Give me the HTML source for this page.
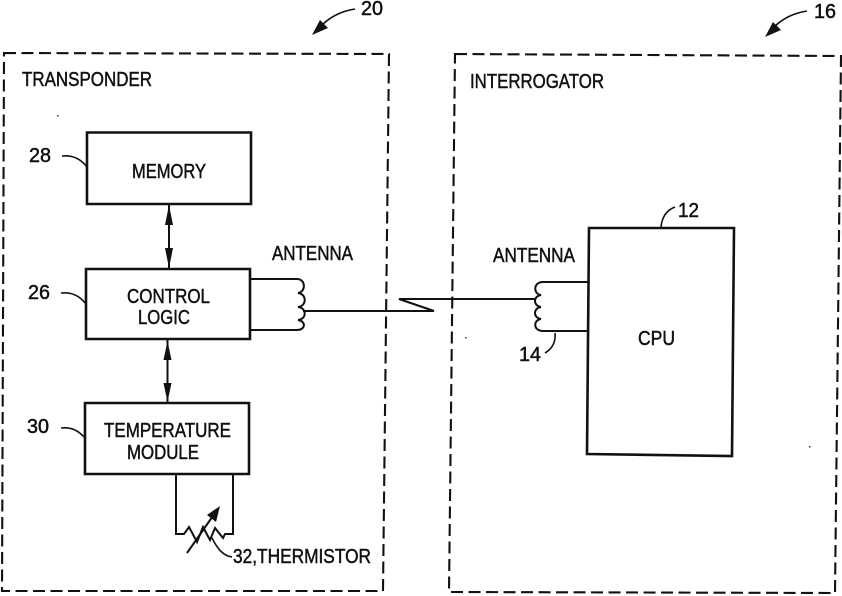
<!DOCTYPE html>
<html><head><meta charset="utf-8"><style>
html,body{margin:0;padding:0;background:#fff}
svg{display:block}
text{font-family:"Liberation Sans",sans-serif;font-size:20.5px;fill:#111;stroke:#111;stroke-width:.5}
.d{fill:none;stroke:#111;stroke-width:2.1;stroke-dasharray:12 5.5}
.b{fill:#fff;stroke:#111;stroke-width:2.6}
.l{fill:none;stroke:#111;stroke-width:2}
.t{fill:none;stroke:#111;stroke-width:1.6}
.h{fill:#111;stroke:none}
</style></head><body>
<svg width="842" height="596" viewBox="0 0 842 596" xmlns="http://www.w3.org/2000/svg">
<path class="d" d="M4 53 L389 54 L383 591 L2 591 Z"/>
<path class="d" d="M455 54 L841 56 L835 593 L449 592 Z"/>

<path class="b" d="M87 132.500 L251 132.500 L251 204 L87 204 Z"/>
<path class="b" d="M86 269 L250 269 L250 339 L86 339 Z"/>
<path class="b" d="M85 403 L249 403 L249 474 L85 474 Z"/>
<path class="b" d="M589 228 L734 228 L732 456 L587 454 Z"/>

<path class="l" d="M169 205 V268"/>
<path class="h" d="M169 205 L173 225 L165 225 Z M169 268 L173 248 L165 248 Z"/>
<path class="l" d="M167.500 340 V403"/>
<path class="h" d="M167.500 341 L171.500 360 L163.500 360 Z M167.500 402 L171.500 383 L163.500 383 Z"/>

<!-- left antenna -->
<path class="l" d="M251 279 H297 C306 279 306 292 298 293 C307 294 307 306 298 307 C307 308 307 319 298 320 C306 321 306 330 297 330 H251"/>
<path class="l" d="M303 311 H434 L399 299 H535"/>
<!-- right antenna -->
<path class="l" d="M588 282 H543 C533 282 533 294 541 295 C533 296 533 306 541 307 C533 308 533 318 541 319 C533 320 533 331 543 331 H588"/>

<!-- thermistor -->
<path class="l" d="M176 475 V534 H184 L189 527 L197 542 L203 527 L210 540 L215 528 L223 538 L225 534 H233 V475"/>
<path class="l" d="M187 553 L215 513"/>
<path class="h" d="M220 506 L216 522 L207 515 Z"/>

<!-- leaders -->
<path class="t" d="M62 156 C72 155 80 158 87 167"/>
<path class="t" d="M61 293 C71 292 79 295 86 304"/>
<path class="t" d="M61 428 C71 427 78 430 85 438"/>
<path class="t" d="M212 538 C218 550 224 556 232 557"/>
<path class="t" d="M555 333 C556 342 552 349 545 353"/>
<path class="t" d="M675 207 C667 210 662 217 661 227"/>
<path class="t" d="M355 9 C343 11 333 15 323 24"/>
<path class="h" d="M312 35 L320 20 L328 28 Z"/>
<path class="t" d="M807 11 C795 13 785 17 775 26"/>
<path class="h" d="M765 37 L773 22 L781 30 Z"/>

<!-- specks -->
<rect x="57" y="115" width="1.500" height="1.500" fill="#333"/>
<rect x="465" y="337" width="1.500" height="1.500" fill="#333"/>
<rect x="809" y="446" width="1.500" height="1.500" fill="#333"/>

<text x="22" y="86" textLength="130" lengthAdjust="spacingAndGlyphs">TRANSPONDER</text>
<text x="470" y="88" textLength="134" lengthAdjust="spacingAndGlyphs">INTERROGATOR</text>
<text x="132" y="178" textLength="74" lengthAdjust="spacingAndGlyphs">MEMORY</text>
<text x="127" y="303" textLength="83" lengthAdjust="spacingAndGlyphs">CONTROL</text>
<text x="138" y="324" textLength="52" lengthAdjust="spacingAndGlyphs">LOGIC</text>
<text x="104" y="437" textLength="127" lengthAdjust="spacingAndGlyphs">TEMPERATURE</text>
<text x="127" y="459" textLength="72" lengthAdjust="spacingAndGlyphs">MODULE</text>
<text x="272" y="260" textLength="81" lengthAdjust="spacingAndGlyphs">ANTENNA</text>
<text x="493" y="262" textLength="82" lengthAdjust="spacingAndGlyphs">ANTENNA</text>
<text x="638" y="345" textLength="37" lengthAdjust="spacingAndGlyphs">CPU</text>
<text x="233" y="563" textLength="138" lengthAdjust="spacingAndGlyphs">32,THERMISTOR</text>
<text x="29" y="162" textLength="22" lengthAdjust="spacingAndGlyphs">28</text>
<text x="28" y="299" textLength="22" lengthAdjust="spacingAndGlyphs">26</text>
<text x="27" y="433" textLength="22" lengthAdjust="spacingAndGlyphs">30</text>
<text x="361" y="15" textLength="22" lengthAdjust="spacingAndGlyphs">20</text>
<text x="814" y="18" textLength="22" lengthAdjust="spacingAndGlyphs">16</text>
<text x="678" y="217" textLength="21" lengthAdjust="spacingAndGlyphs">12</text>
<text x="519" y="361" textLength="22" lengthAdjust="spacingAndGlyphs">14</text>
</svg>
</body></html>
